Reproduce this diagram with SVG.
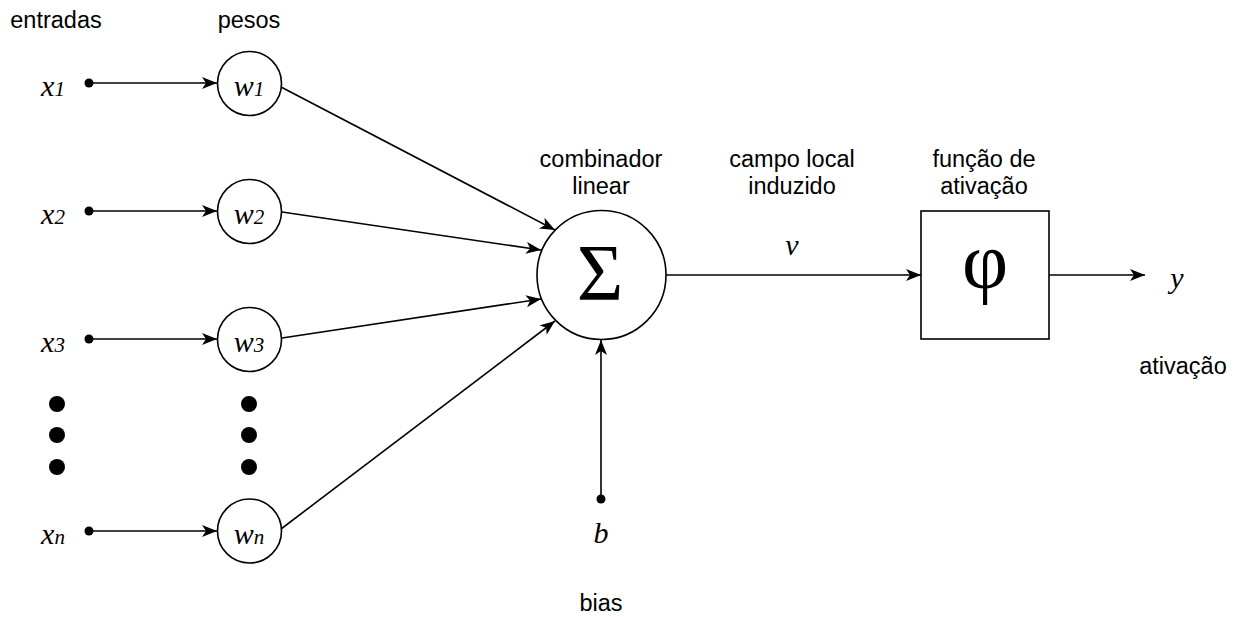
<svg xmlns="http://www.w3.org/2000/svg" width="1234" height="617" viewBox="0 0 1234 617">
  <style>
    .lbl { font-family: "Liberation Sans", Arial, Helvetica, sans-serif; font-size: 23.5px; fill: #000; text-anchor: middle; }
    .math { font-family: "Liberation Serif", "Times New Roman", serif; font-style: italic; font-size: 30px; fill: #000; text-anchor: middle; }
    .sub { font-size: 21px; }
    .node { fill: #fff; stroke: #000; stroke-width: 1.6; }
    .edge { fill: none; stroke: #000; stroke-width: 1.6; marker-end: url(#arrow); }
    .dot { fill: #000; }
  </style>
  <defs>
    <marker id="arrow" markerUnits="userSpaceOnUse" markerWidth="16" markerHeight="14" refX="15" refY="6" orient="auto">
      <path d="M0,0 L15,6 L0,12 L4,6 z" fill="#000"/>
    </marker>
  </defs>

  <rect width="1234" height="617" fill="#fff"/>

  <!-- column headers -->
  <text class="lbl" x="56" y="28">entradas</text>
  <text class="lbl" x="249" y="28">pesos</text>

  <!-- connectors -->
  <g id="connectors">
    <line class="edge" x1="89" y1="83" x2="217" y2="83"/>
    <line class="edge" x1="89" y1="211" x2="217" y2="211"/>
    <line class="edge" x1="89" y1="339" x2="217" y2="339"/>
    <line class="edge" x1="89" y1="531" x2="217" y2="531"/>
    <line class="edge" x1="281" y1="87" x2="555" y2="230"/>
    <line class="edge" x1="282" y1="212" x2="541" y2="250"/>
    <line class="edge" x1="282" y1="338" x2="541" y2="299"/>
    <line class="edge" x1="281" y1="529" x2="555" y2="321"/>
    <line class="edge" x1="601" y1="499" x2="601" y2="340"/>
    <line class="edge" x1="666" y1="275" x2="921" y2="275"/>
    <line class="edge" x1="1049" y1="275" x2="1145" y2="275"/>
  </g>

  <!-- inputs -->
  <g id="input-x1">
    <circle class="dot" cx="89" cy="83" r="4.5"/>
    <text class="math" x="53" y="96">x<tspan class="sub">1</tspan></text>
  </g>
  <g id="input-x2">
    <circle class="dot" cx="89" cy="211" r="4.5"/>
    <text class="math" x="53" y="224">x<tspan class="sub">2</tspan></text>
  </g>
  <g id="input-x3">
    <circle class="dot" cx="89" cy="339" r="4.5"/>
    <text class="math" x="53" y="352">x<tspan class="sub">3</tspan></text>
  </g>
  <g id="input-ellipsis">
    <circle class="dot" cx="57" cy="404" r="8"/>
    <circle class="dot" cx="57" cy="435" r="8"/>
    <circle class="dot" cx="57" cy="467" r="8"/>
  </g>
  <g id="input-xn">
    <circle class="dot" cx="89" cy="531" r="4.5"/>
    <text class="math" x="53" y="544">x<tspan class="sub">n</tspan></text>
  </g>

  <!-- weights -->
  <g id="weight-w1">
    <circle class="node" cx="249.5" cy="83.5" r="32"/>
    <text class="math" x="249" y="96">w<tspan class="sub">1</tspan></text>
  </g>
  <g id="weight-w2">
    <circle class="node" cx="249.5" cy="211.5" r="32"/>
    <text class="math" x="249" y="224">w<tspan class="sub">2</tspan></text>
  </g>
  <g id="weight-w3">
    <circle class="node" cx="249.5" cy="339.5" r="32"/>
    <text class="math" x="249" y="352">w<tspan class="sub">3</tspan></text>
  </g>
  <g id="weight-ellipsis">
    <circle class="dot" cx="249" cy="404" r="8"/>
    <circle class="dot" cx="249" cy="435" r="8"/>
    <circle class="dot" cx="249" cy="467" r="8"/>
  </g>
  <g id="weight-wn">
    <circle class="node" cx="249.5" cy="531" r="32"/>
    <text class="math" x="249" y="544">w<tspan class="sub">n</tspan></text>
  </g>

  <!-- summing junction -->
  <g id="combiner">
    <text class="lbl" x="601" y="167">combinador</text>
    <text class="lbl" x="601" y="194">linear</text>
    <circle class="node" cx="601.5" cy="275" r="64.5"/>
    <text x="600" y="300" font-family="Liberation Serif, Times New Roman, serif" font-size="80" text-anchor="middle">Σ</text>
  </g>

  <!-- induced local field -->
  <g id="local-field">
    <text class="lbl" x="792" y="167">campo local</text>
    <text class="lbl" x="792" y="194">induzido</text>
    <text class="math" x="792" y="255">v</text>
  </g>

  <!-- activation function -->
  <g id="activation">
    <text class="lbl" x="984" y="167">função de</text>
    <text class="lbl" x="984" y="194">ativação</text>
    <rect class="node" x="921" y="211" width="128" height="128"/>
    <text x="985" y="288" font-family="Liberation Serif, Times New Roman, serif" font-size="80" text-anchor="middle">φ</text>
  </g>

  <!-- output -->
  <g id="output">
    <text class="math" x="1177" y="288">y</text>
    <text class="lbl" x="1183" y="374">ativação</text>
  </g>

  <!-- bias -->
  <g id="bias">
    <circle class="dot" cx="601" cy="499" r="4.5"/>
    <text class="math" x="601" y="543">b</text>
    <text class="lbl" x="601" y="611">bias</text>
  </g>
</svg>
